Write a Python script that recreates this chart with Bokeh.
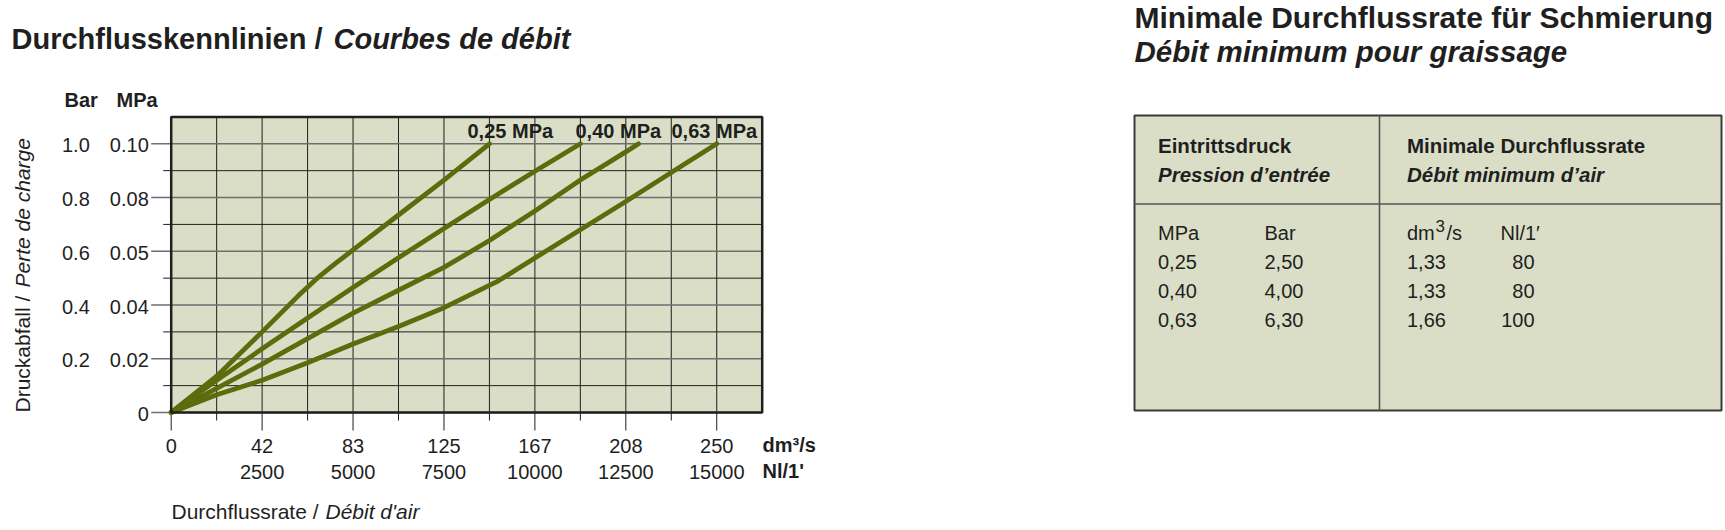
import math
from bokeh.plotting import figure
from bokeh.models import Range1d
from bokeh.core.properties import value
from bokeh.embed import file_html
from bokeh.resources import INLINE

# ---------------- data ----------------
bar_ticks = [0, 0.2, 0.4, 0.6, 0.8, 1.0]
bar_minor_ticks = [0.1, 0.3, 0.5, 0.7, 0.9]
bar_tick_labels = ["", "0.2", "0.4", "0.6", "0.8", "1.0"]
mpa_tick_labels = ["0", "0.02", "0.04", "0.05", "0.08", "0.10"]

flow_ticks_nl = [0, 2500, 5000, 7500, 10000, 12500, 15000]
flow_minor_ticks_nl = [1250, 3750, 6250, 8750, 11250, 13750]
flow_tick_labels_dm3s = ["0", "42", "83", "125", "167", "208", "250"]
flow_tick_labels_nl = ["", "2500", "5000", "7500", "10000", "12500", "15000"]

# pressure drop (bar) against flow (Nl/1') for the four curves
curve1_nl = [0, 1250, 2500, 3500, 4000, 4500, 5000, 6250, 7500, 8750]
curve1_bar = [0, 0.135, 0.30, 0.435, 0.498, 0.553, 0.605, 0.735, 0.865, 1.0]
curve2_nl = [0, 1250, 2500, 3750, 5000, 6250, 7500, 8750, 10000, 11250]
curve2_bar = [0, 0.12, 0.237, 0.352, 0.465, 0.576, 0.685, 0.793, 0.898, 1.0]
curve3_nl = [0, 1250, 2500, 3750, 5000, 6250, 7500, 8750, 10000, 11250, 12500, 12850]
curve3_bar = [0, 0.09, 0.18, 0.275, 0.37, 0.455, 0.54, 0.64, 0.75, 0.865, 0.97, 1.0]
curve4_nl = [0, 1250, 2500, 3750, 5000, 6250, 7500, 9000, 10000, 11250, 12500, 13750, 15000]
curve4_bar = [0, 0.066, 0.12, 0.185, 0.255, 0.32, 0.39, 0.49, 0.575, 0.68, 0.785, 0.893, 1.0]

curve_names = ["0,25 MPa", "0,40 MPa", "0,63 MPa"]

table_mpa = ["0,25", "0,40", "0,63"]
table_bar = ["2,50", "4,00", "6,30"]
table_dm3s = ["1,33", "1,33", "1,66"]
table_nl = ["80", "80", "100"]

# ---------------- style / layout ----------------
FONT = "Liberation Sans"
INK = "#1f1f1f"
PANEL = "#dadec6"
OLIVE = "#5b6c0c"
MAJOR_GRAY = "#6e6e6e"
SHIFT = 0.37                      # baseline correction of the SVG text, in em

CW, CH = 1724, 528                # canvas (page pixels, y downwards)
X_MAX, Y_MAX = 16250, 1.1         # chart extents
X0, PXN = 170.7, 591.0 / 16250    # page x of flow 0, pixels per Nl/1'
Y0, PXB = 412.0, 268.7            # page y of 0 bar, pixels per bar

p = figure(width=CW, height=CH, x_range=Range1d(0, CW), y_range=Range1d(CH, 0),
           min_border=0, x_axis_type=None, y_axis_type=None,
           toolbar_location=None, output_backend="svg")
p.outline_line_color = None
p.background_fill_color = "white"
p.border_fill_color = "white"
p.grid.visible = False

# chart scales: flow (Nl/1') horizontally, pressure drop (bar) vertically
p.extra_x_ranges = {"flow": Range1d(start=-X0 / PXN, end=(CW - X0) / PXN)}
p.extra_y_ranges = {"bar": Range1d(start=(Y0 - CH) / PXB, end=Y0 / PXB)}
C = dict(x_range_name="flow", y_range_name="bar")


def dx(px):   # a length in pixels, as flow units
    return px / PXN


def dy(px):   # a length in pixels, as bar units
    return px / PXB


# panel
p.quad(left=[0], right=[X_MAX], bottom=[0], top=[Y_MAX],
       fill_color=PANEL, line_color=None, **C)

# vertical grid + ticks below
grid_x = sorted(flow_ticks_nl[1:] + flow_minor_ticks_nl)
p.segment(x0=grid_x, y0=[0] * len(grid_x), x1=grid_x, y1=[Y_MAX] * len(grid_x),
          line_color=INK, line_width=1, **C)
p.segment(x0=flow_ticks_nl, y0=[0] * len(flow_ticks_nl), x1=flow_ticks_nl,
          y1=[-dy(18)] * len(flow_ticks_nl), line_color=INK, line_width=1, **C)
p.segment(x0=flow_minor_ticks_nl, y0=[0] * len(flow_minor_ticks_nl), x1=flow_minor_ticks_nl,
          y1=[-dy(8)] * len(flow_minor_ticks_nl), line_color=INK, line_width=1, **C)

# horizontal grid + ticks to the left
p.segment(x0=[-dx(8)] * len(bar_minor_ticks), y0=bar_minor_ticks,
          x1=[X_MAX] * len(bar_minor_ticks), y1=bar_minor_ticks,
          line_color=INK, line_width=1, **C)
p.segment(x0=[-dx(20)] * len(bar_ticks), y0=bar_ticks,
          x1=[X_MAX] * len(bar_ticks), y1=bar_ticks,
          line_color=MAJOR_GRAY, line_width=1.6, **C)

# curves
for xs, ys in [(curve1_nl, curve1_bar), (curve2_nl, curve2_bar),
               (curve3_nl, curve3_bar), (curve4_nl, curve4_bar)]:
    p.line(xs, ys, line_color=OLIVE, line_width=4.8, line_cap="round",
           line_join="round", **C)

# frame border
p.quad(left=[0], right=[X_MAX], bottom=[0], top=[Y_MAX],
       fill_color=None, line_color=INK, line_width=2.5, **C)


def ctext(xs, ys, texts, size, style="normal", align="left"):
    s = float(size.replace("px", ""))
    p.text(x=xs, y=[v + dy(SHIFT * s) for v in ys], text=texts, text_font=value(FONT),
           text_font_size=size, text_font_style=style, text_color=INK, text_align=align,
           text_baseline="alphabetic", **C)


# tick labels
n_x = len(flow_ticks_nl)
ctext(flow_ticks_nl, [-dy(40.5)] * n_x, flow_tick_labels_dm3s, "20px", align="center")
ctext(flow_ticks_nl, [-dy(67)] * n_x, flow_tick_labels_nl, "20px", align="center")
n_y = len(bar_ticks)
ctext([-dx(22.4)] * n_y, [t - dy(9) for t in bar_ticks], mpa_tick_labels, "20px", align="right")
ctext([-dx(81.4)] * n_y, [t - dy(9) for t in bar_ticks], bar_tick_labels, "20px", align="right")

# curve labels
ctext([dx(467 - X0), dx(575 - X0), dx(671 - X0)], [dy(Y0 - 138.3)] * 3, curve_names,
      "20px", "bold")


def ptext(xs, ys, texts, size, style="normal", align="left", angle=0.0):
    s = float(size.replace("px", ""))
    if angle:
        xs = [v - SHIFT * s for v in xs]
    else:
        ys = [v - SHIFT * s for v in ys]
    p.text(x=xs, y=ys, text=texts, text_font=value(FONT), text_font_size=size,
           text_font_style=style, text_color=INK, text_align=align,
           text_baseline="alphabetic", angle=angle)


# chart title, unit heads, axis titles (page pixels)
ptext([11], [49.5], ["Durchflusskennlinien / "], "29px", "bold")
ptext([333], [49.5], ["Courbes de débit"], "29px", "bold italic")
ptext([64, 116], [107, 107], ["Bar", "MPa"], "20px", "bold")
ptext([762, 762], [452, 478], ["dm³/s", "Nl/1'"], "20px", "bold")
ptext([171], [519], ["Durchflussrate / "], "21px")
ptext([325], [519], ["Débit d'air"], "21px", "italic")
ptext([30], [412], ["Druckabfall / "], "21px", angle=math.pi / 2)
ptext([30], [287], ["Perte de charge"], "21px", "italic", angle=math.pi / 2)

# ---------------- right: table ----------------
T_L, T_R, T_T, T_B = 1134, 1721, 115, 410
T_MID_X, T_MID_Y = 1379, 203.5
p.quad(left=[T_L], right=[T_R], top=[T_T], bottom=[T_B],
       fill_color=PANEL, line_color="#3a3a3a", line_width=2)
p.segment(x0=[T_MID_X, T_L], y0=[T_T, T_MID_Y], x1=[T_MID_X, T_R], y1=[T_B, T_MID_Y],
          line_color="#555555", line_width=1.6)

ptext([1134], [28], ["Minimale Durchflussrate für Schmierung"], "30px", "bold")
ptext([1134], [61.5], ["Débit minimum pour graissage"], "29.5px", "bold italic")

C1, C2, C3, C4, C4R = 1157.5, 1264, 1406.5, 1500, 1534
ptext([C1, C3], [152.3, 152.3], ["Eintrittsdruck", "Minimale Durchflussrate"], "20.5px", "bold")
ptext([C1, C3], [181.5, 181.5], ["Pression d’entrée", "Débit minimum d’air"], "20.5px", "bold italic")

UNIT_Y = 240
ROW_Y = [269, 298.3, 327.3]
ptext([C1, C2], [UNIT_Y, UNIT_Y], ["MPa", "Bar"], "20px")
ptext([C3], [UNIT_Y], ["dm"], "20px")
ptext([C3 + 28.5], [UNIT_Y - 8], ["3"], "17px")
ptext([C3 + 39.5], [UNIT_Y], ["/s"], "20px")
ptext([C4], [UNIT_Y], ["Nl/1′"], "20px")
ptext([C1] * 3, ROW_Y, table_mpa, "20px")
ptext([C2] * 3, ROW_Y, table_bar, "20px")
ptext([C3] * 3, ROW_Y, table_dm3s, "20px")
ptext([C4R] * 3, ROW_Y, table_nl, "20px", align="right")

open("out.html", "w").write(file_html(p, INLINE))
